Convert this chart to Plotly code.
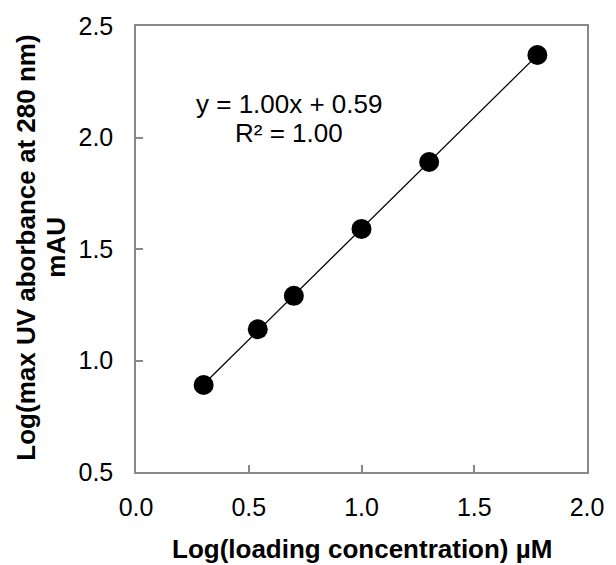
import numpy as np
import plotly.graph_objects as go

# Data
log_conc = [0.30, 0.54, 0.70, 1.00, 1.30, 1.78]
log_abs = [0.89, 1.14, 1.29, 1.59, 1.89, 2.37]
x_ticks = [0.0, 0.5, 1.0, 1.5, 2.0]
y_ticks = [0.5, 1.0, 1.5, 2.0, 2.5]
eq_text = "y = 1.00x + 0.59"
r2_text = "R² = 1.00"
x_title = "Log(loading concentration) µM"
y_title_lines = ["Log(max UV aborbance at 280 nm)", "mAU"]

FONT = "Liberation Sans, Arial"

slope, intercept = np.polyfit(log_conc, log_abs, 1)
fit_x = [min(log_conc), max(log_conc)]
fit_y = [slope * v + intercept for v in fit_x]

fig = go.Figure()
fig.add_trace(go.Scatter(x=fit_x, y=fit_y, mode="lines",
                         line=dict(color="black", width=1.3), showlegend=False))
fig.add_trace(go.Scatter(x=log_conc, y=log_abs, mode="markers",
                         marker=dict(color="black", size=20), showlegend=False))

# trendline equation
fig.add_annotation(x=0.68, y=2.15, xref="x", yref="y", text=eq_text, showarrow=False,
                   xanchor="center", yanchor="middle",
                   font=dict(family=FONT, size=26, color="black"))
fig.add_annotation(x=0.68, y=2.02, xref="x", yref="y", text=r2_text, showarrow=False,
                   xanchor="center", yanchor="middle",
                   font=dict(family=FONT, size=26, color="black"))

# axis titles
fig.add_annotation(x=0.5, y=0, xref="paper", yref="paper", text=f"<b>{x_title}</b>",
                   showarrow=False, xanchor="center", yanchor="middle", yshift=-77,
                   font=dict(family=FONT, size=26, color="black"))
for i, (line, shift) in enumerate(zip(y_title_lines, [-110, -80])):
    fig.add_annotation(x=0, y=0.503, xref="paper", yref="paper", text=f"<b>{line}</b>",
                       showarrow=False, xanchor="center", yanchor="middle", xshift=shift,
                       textangle=-90, font=dict(family=FONT, size=26, color="black"))

axis_common = dict(showline=True, linecolor="#898989", linewidth=1.5, mirror=True,
                   showgrid=False, zeroline=False, ticks="inside", ticklen=7,
                   tickcolor="#898989", tickwidth=1.5,
                   tickfont=dict(family=FONT, size=25, color="black"))

fig.update_xaxes(range=[0, 2.0], tickvals=x_ticks, ticktext=[f"{v:.1f}" for v in x_ticks],
                 ticklabelstandoff=12, **axis_common)
fig.update_yaxes(range=[0.5, 2.5], tickvals=y_ticks, ticktext=[f"{v:.1f}" for v in y_ticks],
                 ticklabelstandoff=16, **axis_common)

fig.update_layout(width=616, height=565, margin=dict(l=136, r=20, t=25, b=93),
                  plot_bgcolor="white", paper_bgcolor="white")

fig.write_html("out.html")
